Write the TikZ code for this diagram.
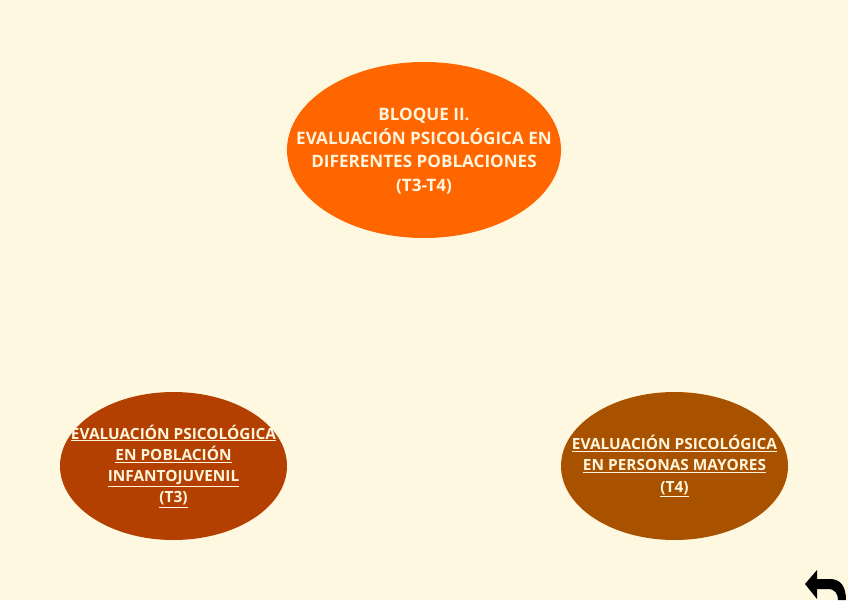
\documentclass[tikz,border=0pt]{standalone}
\usepackage{fontspec}
\setmainfont{Open Sans}
\usetikzlibrary{shapes.geometric}
\definecolor{bg}{HTML}{FFF8E1}
\definecolor{topc}{HTML}{FF6600}
\definecolor{leftc}{HTML}{B34000}
\definecolor{rightc}{HTML}{A85200}
\definecolor{txtc}{HTML}{FFF5DC}
\tikzset{
  blob/.style={ellipse, inner sep=0pt, draw=none},
  toptxt/.style={text=txtc, align=center, font=\bfseries\fontsize{17.1}{23.6}\selectfont},
  subtxt/.style={text=txtc, align=center, font=\bfseries\fontsize{15.4}{21.3}\selectfont}
}
\begin{document}
\begin{tikzpicture}[x=1pt,y=-1pt]
\fill[bg] (0,0) rectangle (848,600);
\useasboundingbox (0,0) rectangle (848,600);
\node[blob, fill=topc, minimum width=274pt, minimum height=176pt] (top) at (424,150) {};
\node[toptxt] (toptext) at (424,151) {BLOQUE II.\\EVALUACIÓN PSICOLÓGICA EN\\DIFERENTES POBLACIONES\\(T3-T4)};
\node[blob, fill=leftc, minimum width=227pt, minimum height=148pt] (left) at (173.5,466) {};
\node[subtxt] (lefttext) at (173.5,466) {\underline{EVALUACIÓN PSICOLÓGICA}\\\underline{EN POBLACIÓN}\\\underline{INFANTOJUVENIL}\\\underline{(T3)}};
\node[blob, fill=rightc, minimum width=227pt, minimum height=148pt] (right) at (674.5,466) {};
\node[subtxt] (righttext) at (674.5,466) {\underline{EVALUACIÓN PSICOLÓGICA}\\\underline{EN PERSONAS MAYORES}\\\underline{(T4)}};
\fill[black] (805,584) -- (817,570) -- (817,579) -- (830,579) .. controls (841,579) and (846,587) .. (846,600) -- (838,600) .. controls (838,594) and (835,589) .. (828,589) -- (817,589) -- (817,599) -- cycle;
\end{tikzpicture}
\end{document}
